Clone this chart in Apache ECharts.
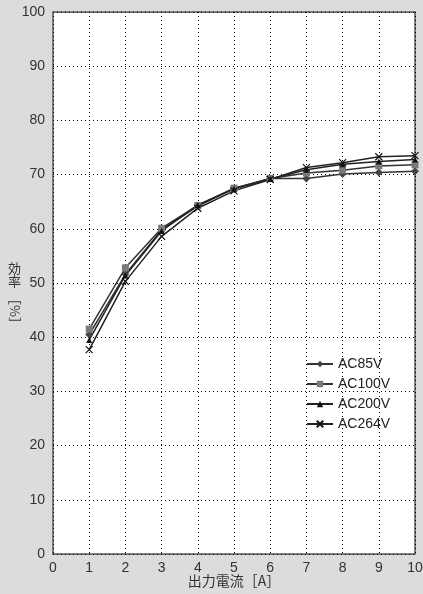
<!DOCTYPE html>
<html>
	<head>
		<meta charset="utf-8">
		<title>効率</title>
		<script src="https://cdn.jsdelivr.net/npm/echarts@6/dist/echarts.min.js"></script>
		<style>
			html, body {
				margin: 0;
				padding: 0;
				background: #dcdcdc;
			}
			#chart {
				width: 423px;
				height: 594px;
			}
		</style>
	</head>
	<body>
		<div id="chart"></div>
		<script>
			// 出力電流 [A]
			var current = [1, 2, 3, 4, 5, 6, 7, 8, 9, 10]
			// 効率 [%]
			var ac85 = [40.5, 51.6, 59.8, 64.2, 67.4, 69.3, 69.3, 70.1, 70.4, 70.6]
			var ac100 = [41.5, 52.8, 60.1, 64.3, 67.5, 69.3, 70.3, 70.8, 71.6, 71.8]
			var ac200 = [39.5, 51.4, 59.6, 64.4, 67.4, 69.2, 70.9, 71.9, 72.4, 72.8]
			var ac264 = [37.7, 50.3, 58.6, 63.8, 67.0, 69.1, 71.3, 72.2, 73.3, 73.5]
			var names = ['AC85V', 'AC100V', 'AC200V', 'AC264V']

			function pairs(ys) {
				var out = []
				for (var i = 0; i < current.length; i++) {
					out.push([current[i], ys[i]])
				}
				return out
			}

			var crossPath = 'path://M0,0L10,10M10,0L0,10'
			var jpFont = '"Noto Sans CJK JP", sans-serif'

			var myChart = echarts.init(document.getElementById('chart'))
			var option = {
				backgroundColor: '#dcdcdc',
				animation: false,
				textStyle: {
					fontFamily: 'Liberation Sans, Arial, sans-serif'
				},
				grid: {
					left: 53,
					right: 8,
					top: 12,
					bottom: 40,
					outerBoundsMode: 'none',
					show: true,
					backgroundColor: '#ffffff',
					borderColor: '#555555',
					borderWidth: 1.5
				},
				legend: {
					orient: 'vertical',
					left: 301,
					top: 352,
					itemWidth: 26,
					itemHeight: 8,
					itemGap: 6,
					textStyle: {
						fontSize: 14,
						color: '#222'
					},
					data: names
				},
				xAxis: {
					type: 'value',
					min: 0,
					max: 10,
					interval: 1,
					axisLine: { show: false },
					axisTick: { show: false },
					axisLabel: {
						fontSize: 14,
						color: '#333',
						margin: 7
					},
					splitLine: {
						lineStyle: { color: '#000', type: [1, 3], width: 1 }
					},
					name: '出力電流［A］',
					nameLocation: 'middle',
					nameGap: 20,
					nameMoveOverlap: false,
					nameTextStyle: {
						fontFamily: jpFont,
						fontSize: 14,
						color: '#333'
					}
				},
				yAxis: {
					type: 'value',
					min: 0,
					max: 100,
					interval: 10,
					axisLine: { show: false },
					axisTick: { show: false },
					axisLabel: {
						fontSize: 14,
						color: '#333',
						margin: 8
					},
					splitLine: {
						lineStyle: { color: '#000', type: [1, 3], width: 1 }
					}
				},
				graphic: [{
					type: 'text',
					left: 8,
					top: 262,
					style: {
						text: '効\n率',
						font: '13px ' + jpFont,
						fill: '#333',
						lineHeight: 13
					}
				}, {
					type: 'group',
					x: 15,
					y: 311,
					rotation: -Math.PI / 2,
					children: [{
						type: 'text',
						style: {
							text: '［%］',
							font: '13px ' + jpFont,
							fill: '#333',
							align: 'center',
							verticalAlign: 'middle'
						}
					}]
				}],
				series: [{
					name: names[0],
					type: 'line',
					data: pairs(ac85),
					symbol: 'diamond',
					symbolSize: 8,
					itemStyle: { color: '#444' },
					lineStyle: { color: '#333', width: 1.5 }
				}, {
					name: names[1],
					type: 'line',
					data: pairs(ac100),
					symbol: 'rect',
					symbolSize: 7,
					itemStyle: { color: '#7a7a7a' },
					lineStyle: { color: '#333', width: 1.5 }
				}, {
					name: names[2],
					type: 'line',
					data: pairs(ac200),
					symbol: 'triangle',
					symbolSize: 6,
					itemStyle: { color: '#111' },
					lineStyle: { color: '#222', width: 1.5 }
				}, {
					name: names[3],
					type: 'line',
					data: pairs(ac264),
					symbol: crossPath,
					symbolSize: 7,
					itemStyle: { color: '#111', borderColor: '#111', borderWidth: 1.2 },
					lineStyle: { color: '#222', width: 1.5 }
				}]
			}
			myChart.setOption(option)
		</script>
	</body>
</html>
